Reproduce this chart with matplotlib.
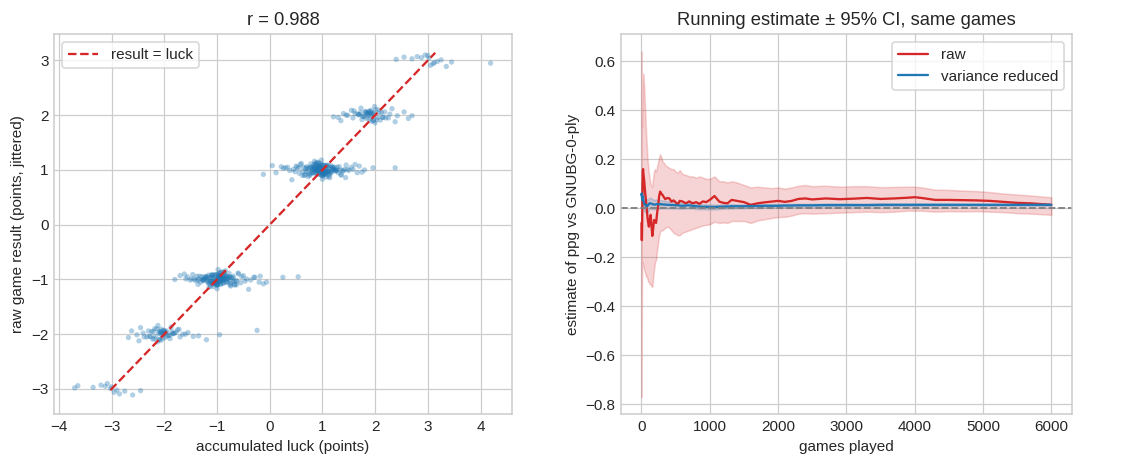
import matplotlib
matplotlib.use('Agg')
import matplotlib.pyplot as plt
from matplotlib.ticker import MultipleLocator

# --- left panel: jittered game result vs accumulated luck, one cluster per outcome ---
jitter = [
    0.04, -0.06, 0.10, -0.02, 0.05, -0.09, 0.01, 0.07, -0.04, 0.03, -0.11, 0.06, -0.03, 0.02, 0.09, -0.05, 0.04, -0.08, 0.13, -0.01,
    0.02, -0.04, 0.06, -0.10, 0.00, 0.05, -0.07, 0.12, -0.02, 0.01, 0.08, -0.05, 0.03, -0.14, 0.03, -0.01, 0.09, -0.08, 0.05, 0.00,
    -0.04, 0.06, -0.09, 0.01, 0.10, -0.03, 0.04, -0.06, 0.16, -0.05, 0.02, -0.10, 0.07, -0.01, 0.05, -0.04, 0.00, 0.07, -0.12, 0.04,
    -0.02, 0.09, -0.06, 0.01, 0.05, -0.08, 0.03, -0.17, 0.11, -0.01, 0.04, -0.05, 0.08, -0.03, 0.00, 0.06, -0.09, 0.02, -0.04, 0.14,
    0.01, -0.07, 0.05, -0.02, 0.09, -0.10, 0.04, 0.00, -0.05, 0.08, -0.01, 0.03, -0.08, 0.10, -0.04, 0.06, -0.13, 0.01, 0.05, -0.03,
    0.04, -0.09, 0.00, 0.07, -0.05, 0.02, 0.18, -0.06, 0.01, -0.04, 0.06, -0.12, 0.04, -0.01, 0.09, -0.03, 0.05, -0.07, 0.00, 0.11,
    -0.05, 0.03, -0.09, 0.06, -0.01, 0.04, -0.18, 0.08, -0.04, 0.01, 0.05, -0.06, 0.12, -0.02, 0.00, 0.04, -0.10, 0.07, -0.01, 0.02,
    -0.08, 0.09, -0.03, 0.01, 0.13, -0.05, 0.03, -0.02, 0.06, -0.09, 0.04, 0.00, -0.07, 0.08, -0.01, 0.05, -0.14, 0.02, -0.04, 0.10,
]

luck_p1 = [
    0.95, 1.02, 0.88, 1.10, 0.79, 0.97, 1.21, 0.91, 1.05, 0.68, 1.00, 0.84, 1.15, 0.93, 0.99, 1.30, 0.74, 1.08, 0.90, 1.03,
    0.86, 1.12, 0.96, 0.62, 1.01, 1.18, 0.89, 0.94, 1.25, 0.81, 1.06, 0.98, 0.71, 1.14, 0.92, 1.38, 0.87, 1.04, 0.77, 0.95,
    1.09, 0.83, 0.99, 1.22, 0.58, 1.00, 0.93, 1.16, 0.85, 1.07, 0.97, 0.66, 1.11, 0.90, 1.28, 0.80, 1.02, 0.94, 0.73, 1.19,
    0.96, 1.45, 0.88, 1.05, 0.52, 1.13, 0.91, 1.00, 0.78, 1.24, 0.98, 0.84, 1.08, 0.69, 1.33, 0.95, 1.03, 0.87, 1.17, 0.92,
    0.45, 1.01, 1.55, 0.89, 1.10, 0.76, 0.97, 1.26, 0.82, 1.04, 0.38, 1.14, 0.93, 1.62, 0.99, 0.70, 1.07, 0.86, 1.20, 0.63,
    0.30, 1.35, 0.91, 1.70, 1.06, 0.80, 0.98, 0.56, 1.42, 0.94, 0.22, 1.12, 0.85, 1.50, 1.00, 0.48, 1.23, 0.75, 1.80, 0.96,
    0.12, 1.09, 0.67, 1.32, 0.88, 1.96, 0.42, 1.16, 0.95, 1.58, 0.34, 1.04, 0.60, 1.40, 0.81, 2.38, 0.99, 0.50, 1.27, 0.90,
    -0.12, 1.02, 0.72, 1.48, 0.87, 1.66, 0.26, 1.11, 0.93, 1.36, 0.55, 1.19, 0.79, 0.05, 1.06, 0.64, 1.44, 0.97, 1.75, 0.84,
]
luck_m1 = [
    -0.95, -1.03, -0.87, -1.12, -0.78, -0.99, -1.20, -0.90, -1.06, -0.70, -1.00, -0.83, -1.16, -0.93, -0.97, -1.31, -0.75, -1.09, -0.89, -1.02,
    -0.85, -1.13, -0.96, -0.63, -1.01, -1.19, -0.88, -0.94, -1.26, -0.80, -1.07, -0.98, -0.72, -1.15, -0.92, -1.37, -0.86, -1.04, -0.76, -0.95,
    -1.10, -0.82, -0.99, -1.23, -0.59, -1.00, -0.93, -1.17, -0.84, -1.08, -0.97, -0.67, -1.11, -0.90, -1.29, -0.79, -1.02, -0.94, -0.74, -1.20,
    -0.96, -1.46, -0.88, -1.05, -0.53, -1.14, -0.91, -1.00, -0.77, -1.25, -0.98, -0.83, -1.08, -0.68, -1.34, -0.95, -1.03, -0.87, -1.18, -0.92,
    -0.44, -1.01, -1.56, -0.89, -1.10, -0.75, -0.97, -1.27, -0.81, -1.04, -0.36, -1.14, -0.93, -1.62, -0.99, -0.69, -1.07, -0.86, -1.21, -0.62,
    -0.28, -1.36, -0.91, -1.70, -1.06, -0.79, -0.98, -0.55, -1.43, -0.94, -0.18, -1.12, -0.85, -1.51, -1.00, -0.47, -1.24, -0.74, -1.80, -0.96,
    -0.06, -1.09, -0.66, -1.33, -0.88, 0.25, -0.40, -1.16, -0.95, -1.59, 0.54, -1.04, -0.60, -1.41, -0.81, -0.30, -0.99, -0.50, -1.27, -0.90,
    -0.12, -1.02, -0.71, -1.48, -0.87, -0.20, -1.11, -0.64, -1.38, -0.93,
]
luck_p2 = [
    1.90, 1.84, 2.01, 1.76, 1.95, 2.10, 1.70, 1.88, 2.05, 1.62, 1.93, 2.18, 1.80, 1.98, 1.55, 2.25, 1.86, 2.03, 1.73, 1.91,
    1.67, 2.14, 1.82, 1.97, 1.48, 2.08, 1.89, 2.32, 1.78, 1.94, 1.60, 2.20, 1.85, 2.00, 1.40, 2.42, 1.92, 1.75, 2.12, 1.87,
    1.30, 2.55, 1.96, 1.69, 2.06, 1.21, 1.83, 2.63, 1.99, 1.58, 2.28, 1.35, 1.90, 2.70, 1.72, 2.15, 1.45, 1.81, 2.38, 1.94,
]
luck_m2 = [
    -2.05, -1.98, -2.14, -1.90, -2.08, -2.22, -1.84, -2.01, -2.17, -1.78, -2.06, -2.30, -1.94, -2.11, -1.72, -2.38, -2.00, -2.19, -1.87, -2.04,
    -1.81, -2.26, -1.96, -2.10, -1.65, -2.21, -2.03, -2.45, -1.92, -2.07, -1.75, -2.33, -1.99, -2.13, -1.55, -2.52, -2.06, -1.89, -2.24, -2.01,
    -1.45, -2.62, -2.09, -1.83, -2.18, -1.35, -1.97, -2.68, -2.12, -1.70, -2.40, -1.20, -2.02, -0.95, -1.86, -2.28, -1.60, -0.24, -2.48, -2.08,
]
luck_p3 = [3.02, 3.10, 2.95, 3.18, 2.88, 3.05, 3.25, 2.80, 3.12, 2.70, 3.35, 2.55, 3.45, 2.40, 3.00, 4.19]
luck_m3 = [-3.00, -2.95, -3.08, -2.90, -3.12, -2.85, -3.02, -3.20, -2.75, -3.35, -2.60, -3.64, -2.45, -3.70]

outcomes = [1, -1, 2, -2, 3, -3]
luck_by_outcome = [luck_p1, luck_m1, luck_p2, luck_m2, luck_p3, luck_m3]
diag_ends = [-3.02, 3.14]

# --- right panel: running estimate with 95% CI ---
games = [
    1, 4, 8, 12, 16, 20, 25, 30, 40, 50,
    60, 70, 80, 90, 100, 110, 120, 135, 150, 160,
    170, 185, 200, 215, 230, 245, 260, 275, 290, 310,
    330, 350, 380, 410, 440, 470, 500, 530, 560, 600,
    650, 700, 750, 800, 850, 900, 950, 1000, 1070, 1140,
    1200, 1260, 1320, 1400, 1500, 1600, 1700, 1800, 1900, 2000,
    2100, 2200, 2300, 2400, 2500, 2700, 2900, 3100, 3300, 3500,
    3700, 3900, 4000, 4100, 4300, 4500, 4700, 4900, 5100, 5300,
    5500, 5700, 5900, 6000,
]
raw_est = [
    -0.06, -0.13, -0.13, -0.05, 0.08, 0.15, 0.16, 0.14, 0.115, 0.08,
    0.05, 0.02, -0.007, -0.04, -0.06, -0.075, -0.05, -0.027, -0.08, -0.113,
    -0.09, -0.048, -0.055, -0.06, -0.02, 0.01, 0.05, 0.068, 0.06, 0.054,
    0.045, 0.037, 0.042, 0.04, 0.027, 0.032, 0.025, 0.014, 0.03, 0.028,
    0.02, 0.028, 0.02, 0.025, 0.018, 0.028, 0.025, 0.034, 0.05, 0.027,
    0.022, 0.02, 0.034, 0.03, 0.025, 0.014, 0.02, 0.024, 0.027, 0.03,
    0.026, 0.03, 0.038, 0.04, 0.036, 0.04, 0.037, 0.039, 0.042, 0.038,
    0.04, 0.043, 0.045, 0.042, 0.034, 0.034, 0.033, 0.032, 0.03, 0.026,
    0.022, 0.02, 0.016, 0.014,
]
raw_hi = [
    0.64, 0.50, 0.33, 0.40, 0.48, 0.52, 0.55, 0.54, 0.50, 0.43,
    0.36, 0.30, 0.25, 0.20, 0.17, 0.14, 0.12, 0.10, 0.09, 0.088,
    0.12, 0.15, 0.16, 0.15, 0.17, 0.19, 0.21, 0.22, 0.21, 0.19,
    0.185, 0.175, 0.17, 0.165, 0.16, 0.16, 0.15, 0.145, 0.156, 0.14,
    0.136, 0.13, 0.13, 0.125, 0.13, 0.125, 0.12, 0.12, 0.13, 0.11,
    0.11, 0.105, 0.11, 0.105, 0.095, 0.085, 0.088, 0.085, 0.082, 0.085,
    0.08, 0.085, 0.092, 0.095, 0.09, 0.092, 0.088, 0.09, 0.09, 0.086,
    0.087, 0.088, 0.088, 0.085, 0.076, 0.075, 0.072, 0.07, 0.066, 0.06,
    0.056, 0.052, 0.047, 0.045,
]
raw_lo = [
    -0.77, -0.60, -0.35, -0.22, -0.22, -0.23, -0.23, -0.24, -0.25, -0.26,
    -0.27, -0.28, -0.28, -0.29, -0.30, -0.30, -0.31, -0.31, -0.32, -0.32,
    -0.29, -0.25, -0.22, -0.21, -0.17, -0.14, -0.11, -0.095, -0.09, -0.09,
    -0.085, -0.08, -0.075, -0.08, -0.09, -0.10, -0.105, -0.11, -0.11, -0.10,
    -0.095, -0.09, -0.085, -0.08, -0.075, -0.07, -0.068, -0.065, -0.055, -0.06,
    -0.058, -0.06, -0.052, -0.052, -0.052, -0.06, -0.05, -0.045, -0.04, -0.036,
    -0.035, -0.03, -0.022, -0.02, -0.022, -0.02, -0.018, -0.016, -0.014, -0.016,
    -0.014, -0.01, -0.01, -0.01, -0.014, -0.012, -0.013, -0.012, -0.014, -0.016,
    -0.02, -0.022, -0.025, -0.027,
]
vr_est = [
    0.055, 0.06, 0.045, 0.035, 0.04, 0.048, 0.04, 0.03, 0.02, 0.015,
    0.012, 0.01, 0.012, 0.01, 0.012, 0.018, 0.02, 0.02, 0.018, 0.017,
    0.016, 0.015, 0.015, 0.016, 0.017, 0.016, 0.016, 0.017, 0.016, 0.016,
    0.015, 0.015, 0.014, 0.014, 0.013, 0.013, 0.012, 0.012, 0.011, 0.01,
    0.011, 0.012, 0.01, 0.008, 0.007, 0.006, 0.006, 0.005, 0.005, 0.006,
    0.007, 0.007, 0.008, 0.008, 0.008, 0.009, 0.009, 0.01, 0.01, 0.01,
    0.011, 0.011, 0.012, 0.012, 0.012, 0.013, 0.013, 0.013, 0.013, 0.014,
    0.014, 0.014, 0.014, 0.014, 0.014, 0.014, 0.014, 0.014, 0.014, 0.014,
    0.014, 0.014, 0.014, 0.014,
]
vr_halfwidth = [
    0.05, 0.045, 0.04, 0.038, 0.036, 0.035, 0.034, 0.033, 0.032, 0.03,
    0.028, 0.027, 0.026, 0.025, 0.024, 0.023, 0.023, 0.022, 0.021, 0.021,
    0.02, 0.02, 0.019, 0.019, 0.018, 0.018, 0.017, 0.017, 0.017, 0.016,
    0.016, 0.015, 0.015, 0.014, 0.014, 0.014, 0.013, 0.013, 0.013, 0.012,
    0.012, 0.012, 0.011, 0.011, 0.011, 0.01, 0.01, 0.01, 0.01, 0.009,
    0.009, 0.009, 0.009, 0.008, 0.008, 0.008, 0.008, 0.007, 0.007, 0.007,
    0.007, 0.007, 0.006, 0.006, 0.006, 0.006, 0.006, 0.006, 0.005, 0.005,
    0.005, 0.005, 0.005, 0.005, 0.005, 0.005, 0.004, 0.004, 0.004, 0.004,
    0.004, 0.004, 0.004, 0.004,
]
for arr in (raw_est, raw_hi, raw_lo, vr_est, vr_halfwidth):
    assert len(arr) == len(games), len(arr)

plt.style.use('seaborn-v0_8-whitegrid')
fig, (ax1, ax2) = plt.subplots(1, 2, figsize=(1127 / 110, 468 / 110), dpi=110)
ax1.set_position([0.048, 0.115, 0.406, 0.812])
ax2.set_position([0.551, 0.115, 0.400, 0.812])

for outcome, luck in zip(outcomes, luck_by_outcome):
    ys = [outcome + j for j in jitter[:len(luck)]]
    ax1.scatter(luck, ys, s=12, alpha=0.35, color='tab:blue', edgecolors='none')
ax1.plot(diag_ends, diag_ends, '--', color='tab:red', lw=1.5, label='result = luck')
ax1.set_xlim(-4.09, 4.59)
ax1.set_ylim(-3.46, 3.48)
ax1.xaxis.set_major_locator(MultipleLocator(1))
ax1.yaxis.set_major_locator(MultipleLocator(1))
ax1.set_xlabel('accumulated luck (points)')
ax1.set_ylabel('raw game result (points, jittered)')
ax1.set_title('r = 0.988')
ax1.legend(loc='upper left', frameon=True)

vr_lo = [v - h for v, h in zip(vr_est, vr_halfwidth)]
vr_hi = [v + h for v, h in zip(vr_est, vr_halfwidth)]
ax2.fill_between(games, raw_lo, raw_hi, color='tab:red', alpha=0.2)
ax2.fill_between(games, vr_lo, vr_hi, color='tab:blue', alpha=0.2)
ax2.plot(games, raw_est, color='tab:red', lw=1.5, label='raw')
ax2.plot(games, vr_est, color='tab:blue', lw=1.5, label='variance reduced')
ax2.axhline(0, color='gray', ls='--', lw=1.2)
ax2.set_xlabel('games played')
ax2.set_ylabel('estimate of ppg vs GNUBG-0-ply')
ax2.set_title('Running estimate ± 95% CI, same games')
ax2.legend(loc='upper right', frameon=True)

fig.savefig('out.png', dpi=110)
